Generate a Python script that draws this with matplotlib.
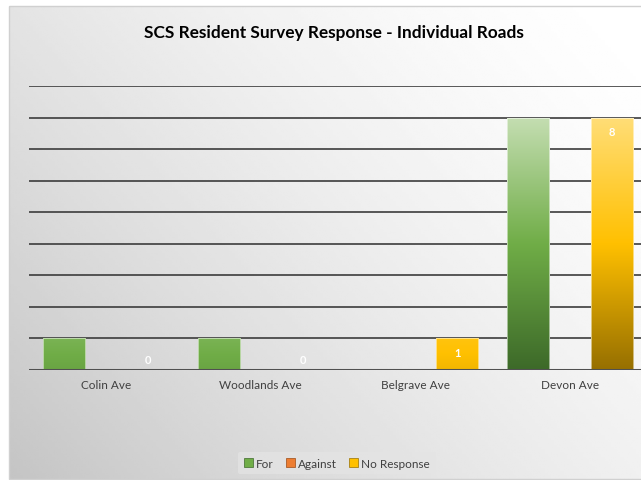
import numpy as np
import matplotlib
matplotlib.use("Agg")
import matplotlib.pyplot as plt
from matplotlib.colors import LinearSegmentedColormap
from matplotlib.patches import Rectangle

# data
roads = ["Colin Ave", "Woodlands Ave", "Belgrave Ave", "Devon Ave"]
series = ["For", "Against", "No Response"]
for_votes = [1, 1, 0, 8]
against_votes = [0, 0, 0, 0]
no_response = [0, 0, 1, 8]

# light / mid / dark shades for each series
shades = {
    "For": ["#c3ddb0", "#70ad47", "#3d6a29"],
    "Against": ["#f8c09a", "#ed7d31", "#9c4a14"],
    "No Response": ["#ffdd75", "#ffc000", "#977000"],
}

plt.rcParams["font.family"] = ["Lato", "DejaVu Sans"]

fig = plt.figure(figsize=(6.41, 4.81), dpi=100)

# background with diagonal grey-to-white gradient
bg = fig.add_axes([0, 0, 1, 1], zorder=-2)
bg.set_xlim(0, 641)
bg.set_ylim(481, 0)
bg.axis("off")
xx, yy = np.meshgrid(np.linspace(0, 1, 200), np.linspace(0, 1, 200))
d = (1 - xx) * 0.6 + yy * 0.4
grey = 1 - 0.23 * d ** 1.5
bg.imshow(grey, cmap="gray", vmin=0, vmax=1, extent=[9, 641, 480, 7],
          aspect="auto", interpolation="bilinear")
bg.add_patch(Rectangle((9, 7), 640, 473, fill=False, edgecolor="#d0d0d0", lw=1))

ax = fig.add_axes([29 / 641, 1 - 370.5 / 481, 618 / 641, 283.5 / 481])
ax.set_facecolor("none")
ax.set_xlim(-0.5, 3.5)
ax.set_ylim(0, 9)

for v in range(1, 10):
    ax.axhline(v, color="#3c3c3c", lw=1.2, zorder=1)
ax.axhline(0, color="#505050", lw=2.2, zorder=4)

x = np.arange(len(roads))
w = 0.272
values = [for_votes, against_votes, no_response]
for i, (name, vals) in enumerate(zip(series, values)):
    bars = ax.bar(x + (i - 1) * w, vals, width=w, color="none",
                  edgecolor="#ffffff", lw=0.6, alpha=0.6, zorder=3)
    cmap = LinearSegmentedColormap.from_list(name, shades[name])
    for b, v in zip(bars, vals):
        if v <= 0:
            continue
        x0, x1 = b.get_x(), b.get_x() + b.get_width()
        # light at the top of the bar, dark at the bottom
        t = np.linspace(0.5 - v / 16, 0.5 + v / 16, 100)[:, None]
        grad = cmap(np.repeat(t, 20, axis=1))
        im = ax.imshow(grad, extent=[x0, x1, 0, v], aspect="auto",
                       interpolation="bilinear", zorder=2)
        im.set_clip_path(b)
    if name == "No Response":
        for xi, v in zip(x + (i - 1) * w, vals):
            ax.text(xi, max(v - 0.45, 0.32), str(v), ha="center", va="center",
                    color="white", fontsize=8, fontweight="bold", zorder=5)

ax.set_yticks([])
ax.set_xticks(x)
ax.set_xticklabels(roads, fontsize=8.5, color="#404040")
ax.tick_params(axis="x", length=0, pad=7)
for s in ax.spines.values():
    s.set_visible(False)

fig.text(334 / 641, 1 - 33 / 481, "SCS Resident Survey Response - Individual Roads",
         ha="center", va="center", fontsize=12.4, fontweight="bold", color="#000000")

# legend
handles = [Rectangle((0, 0), 1, 1, facecolor=shades[n][1], edgecolor=shades[n][2], lw=0.5)
           for n in series]
leg = fig.legend(handles, series, loc="center", bbox_to_anchor=(337 / 641, 1 - 464 / 481),
                 ncol=3, frameon=True, fontsize=8.5, handlelength=0.75, handleheight=0.75,
                 handletextpad=0.3, columnspacing=1.0, borderpad=0.5)
leg.get_frame().set_facecolor("#e4e4e4")
leg.get_frame().set_edgecolor("none")
leg.get_frame().set_alpha(0.7)
for t in leg.get_texts():
    t.set_color("#404040")

fig.savefig("out.png", dpi=100)
